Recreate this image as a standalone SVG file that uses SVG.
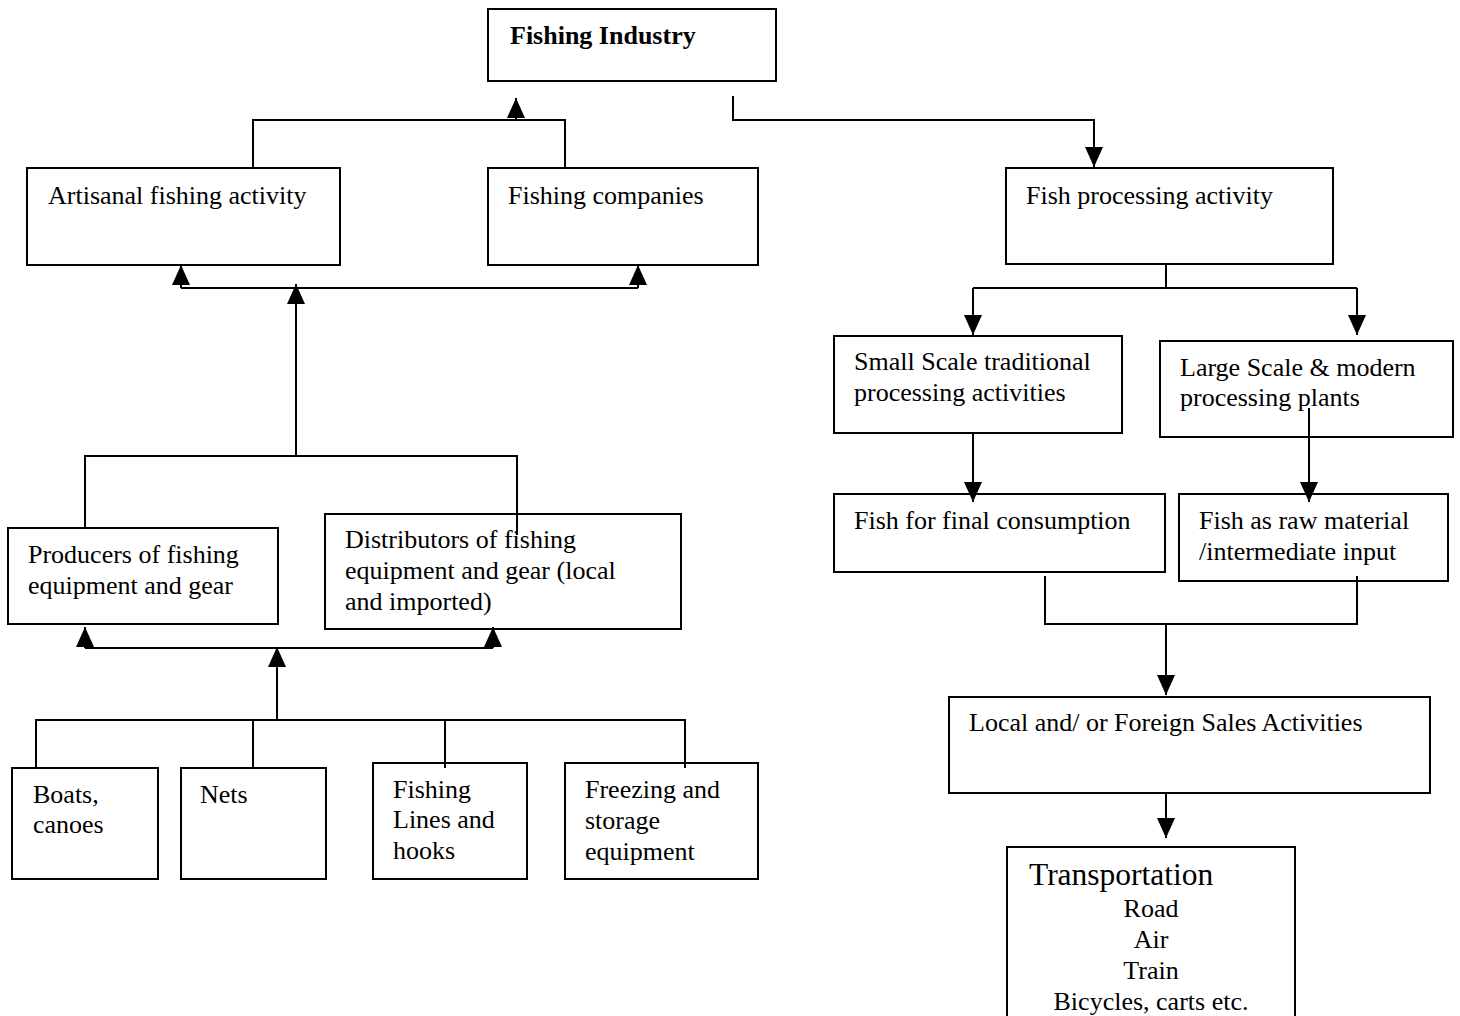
<svg xmlns="http://www.w3.org/2000/svg" width="1460" height="1016" viewBox="0 0 1460 1016">
<style>
.box{fill:none;stroke:#000;stroke-width:2}
.t{font-family:"Liberation Serif","Times New Roman",serif;font-size:26px;fill:#000}
.b{font-weight:bold}
.c{fill:none;stroke:#000;stroke-width:2}
.a{fill:none;stroke:#000;stroke-width:2;marker-end:url(#ah)}
</style>
<defs>
<marker id="ah" markerUnits="userSpaceOnUse" markerWidth="20" markerHeight="18" viewBox="0 0 20 18" refX="20" refY="9" orient="auto">
<path d="M0,0 L20,9 L0,18 z" fill="#000"/>
</marker>
</defs>
<rect width="1460" height="1016" fill="#fff"/>
<g id="fishing-industry"><rect class="box" x="488" y="9" width="288" height="72"/><text class="t b" x="510" y="44">Fishing Industry</text></g>
<g id="artisanal"><rect class="box" x="27" y="168" width="313" height="97"/><text class="t" x="48" y="204">Artisanal fishing activity</text></g>
<g id="companies"><rect class="box" x="488" y="168" width="270" height="97"/><text class="t" x="508" y="204">Fishing companies</text></g>
<g id="producers"><rect class="box" x="8" y="528" width="270" height="96"/><text class="t" x="28" y="563">Producers of fishing</text><text class="t" x="28" y="594">equipment and gear</text></g>
<g id="distributors"><rect class="box" x="325" y="514" width="356" height="115"/><text class="t" x="345" y="548">Distributors of fishing</text><text class="t" x="345" y="579">equipment and gear (local</text><text class="t" x="345" y="610">and imported)</text></g>
<g id="boats"><rect class="box" x="12" y="768" width="146" height="111"/><text class="t" x="33" y="803">Boats,</text><text class="t" x="33" y="833">canoes</text></g>
<g id="nets"><rect class="box" x="181" y="768" width="145" height="111"/><text class="t" x="200" y="803">Nets</text></g>
<g id="lines"><rect class="box" x="373" y="763" width="154" height="116"/><text class="t" x="393" y="798">Fishing</text><text class="t" x="393" y="828">Lines and</text><text class="t" x="393" y="859">hooks</text></g>
<g id="freezing"><rect class="box" x="565" y="763" width="193" height="116"/><text class="t" x="585" y="798">Freezing and</text><text class="t" x="585" y="829">storage</text><text class="t" x="585" y="860">equipment</text></g>
<g id="processing"><rect class="box" x="1006" y="168" width="327" height="96"/><text class="t" x="1026" y="204">Fish processing activity</text></g>
<g id="small-scale"><rect class="box" x="834" y="336" width="288" height="97"/><text class="t" x="854" y="370">Small Scale traditional</text><text class="t" x="854" y="401">processing activities</text></g>
<g id="large-scale"><rect class="box" x="1160" y="341" width="293" height="96"/><text class="t" x="1180" y="376">Large Scale &amp; modern</text><text class="t" x="1180" y="406">processing plants</text></g>
<g id="final"><rect class="box" x="834" y="494" width="331" height="78"/><text class="t" x="854" y="529">Fish for final consumption</text></g>
<g id="raw"><rect class="box" x="1179" y="494" width="269" height="87"/><text class="t" x="1199" y="529">Fish as raw material</text><text class="t" x="1199" y="560">/intermediate input</text></g>
<g id="sales"><rect class="box" x="949" y="697" width="481" height="96"/><text class="t" x="969" y="731">Local and/ or Foreign Sales Activities</text></g>
<g id="transport"><rect class="box" x="1007" y="847" width="288" height="180"/><text class="t" x="1029" y="885" style="font-size:31.5px">Transportation</text><text class="t" x="1151" y="917" text-anchor="middle">Road</text><text class="t" x="1151" y="948" text-anchor="middle">Air</text><text class="t" x="1151" y="979" text-anchor="middle">Train</text><text class="t" x="1151" y="1010" text-anchor="middle">Bicycles, carts etc.</text></g>
<g id="connectors">
<path class="c" d="M253,168 V120 H565 V168"/>
<path class="a" d="M516,120 V98"/>
<path class="a" d="M733,96 V120 H1094 V167"/>
<path class="c" d="M181,288 H638"/>
<path class="a" d="M181,288 V265"/>
<path class="a" d="M638,288 V265"/>
<path class="a" d="M296,456 V284"/>
<path class="c" d="M85,528 V456 H517 V535"/>
<path class="c" d="M85,648 H493"/>
<path class="a" d="M85,648 V627"/>
<path class="a" d="M493,648 V627"/>
<path class="a" d="M277,720 V647"/>
<path class="c" d="M36,768 V720 H685 V768"/>
<path class="c" d="M253,720 V768"/>
<path class="c" d="M445,720 V768"/>
<path class="c" d="M1166,264 V288"/>
<path class="c" d="M973,288 H1357"/>
<path class="a" d="M973,288 V335"/>
<path class="a" d="M1357,288 V335"/>
<path class="a" d="M973,433 V502"/>
<path class="a" d="M1309,408 V502"/>
<path class="c" d="M1045,576 V624 H1357 V576"/>
<path class="a" d="M1166,624 V695"/>
<path class="a" d="M1166,793 V838"/>
</g>
</svg>
